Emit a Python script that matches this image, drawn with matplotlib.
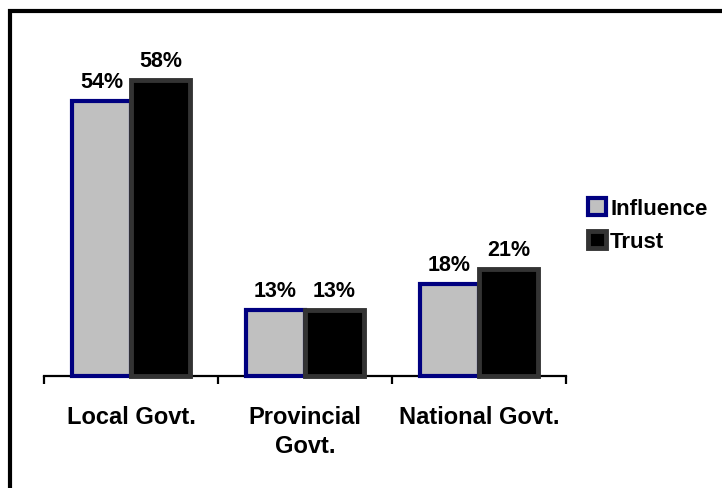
import matplotlib.pyplot as plt
from matplotlib.patches import Rectangle
import numpy as np

categories = ['Local Govt.', 'Provincial\nGovt.', 'National Govt.']
influence = [54, 13, 18]
trust = [58, 13, 21]
series_names = ['Influence', 'Trust']

plt.rcParams['font.family'] = ['Liberation Sans', 'DejaVu Sans']
plt.rcParams['font.weight'] = 'bold'

fig = plt.figure(figsize=(7.22, 4.89), dpi=100)
W, H = 722, 489

# outer frame of the chart area (runs past right and bottom edges)
fig.patches.append(Rectangle((10 / W, -0.2), 1.2, 1 - 12 / H + 0.2,
                             transform=fig.transFigure, fill=False,
                             edgecolor='black', linewidth=3, zorder=0))

ax = fig.add_axes([44 / W, 1 - 377 / H, 522 / W, 306 / H])
ax.patch.set_visible(False)

x = np.arange(len(categories))
w = 0.34
b1 = ax.bar(x - w / 2, influence, w, color='#c0c0c0', edgecolor='#000080',
            linewidth=3, zorder=3, clip_on=False, label=series_names[0])
b2 = ax.bar(x + w / 2, trust, w, color='black', edgecolor='#333333',
            linewidth=3.5, zorder=4, clip_on=False, label=series_names[1])

for bars, vals in [(b1, influence), (b2, trust)]:
    for r, v in zip(bars, vals):
        ax.annotate('%d%%' % v, (r.get_x() + r.get_width() / 2, v),
                    xytext=(0, 10), textcoords='offset points',
                    ha='center', va='baseline', fontsize=15.5,
                    fontweight='bold')

ax.set_xlim(-0.5, len(categories) - 0.5)
ax.set_ylim(0, 60)
for s in ['top', 'right', 'left']:
    ax.spines[s].set_visible(False)
ax.spines['bottom'].set_linewidth(1.6)
ax.set_yticks([])

ax.set_xticks(np.arange(len(categories) + 1) - 0.5)
ax.set_xticklabels([])
ax.tick_params(axis='x', which='major', length=6, width=1.6, direction='out')
ax.set_xticks(x, minor=True)
ax.set_xticklabels(categories, minor=True, fontsize=17, fontweight='bold',
                   linespacing=1.35)
ax.tick_params(axis='x', which='minor', length=0, pad=21)

fig.legend(handles=[b1, b2], labels=series_names,
           loc='center left', bbox_to_anchor=(588 / W, 1 - 226 / H),
           frameon=False, handlelength=0.8, handleheight=0.8,
           handletextpad=0.2, labelspacing=0.5, borderaxespad=0,
           borderpad=0, prop={'weight': 'bold', 'size': 16})

fig.savefig('out.png', dpi=100)
